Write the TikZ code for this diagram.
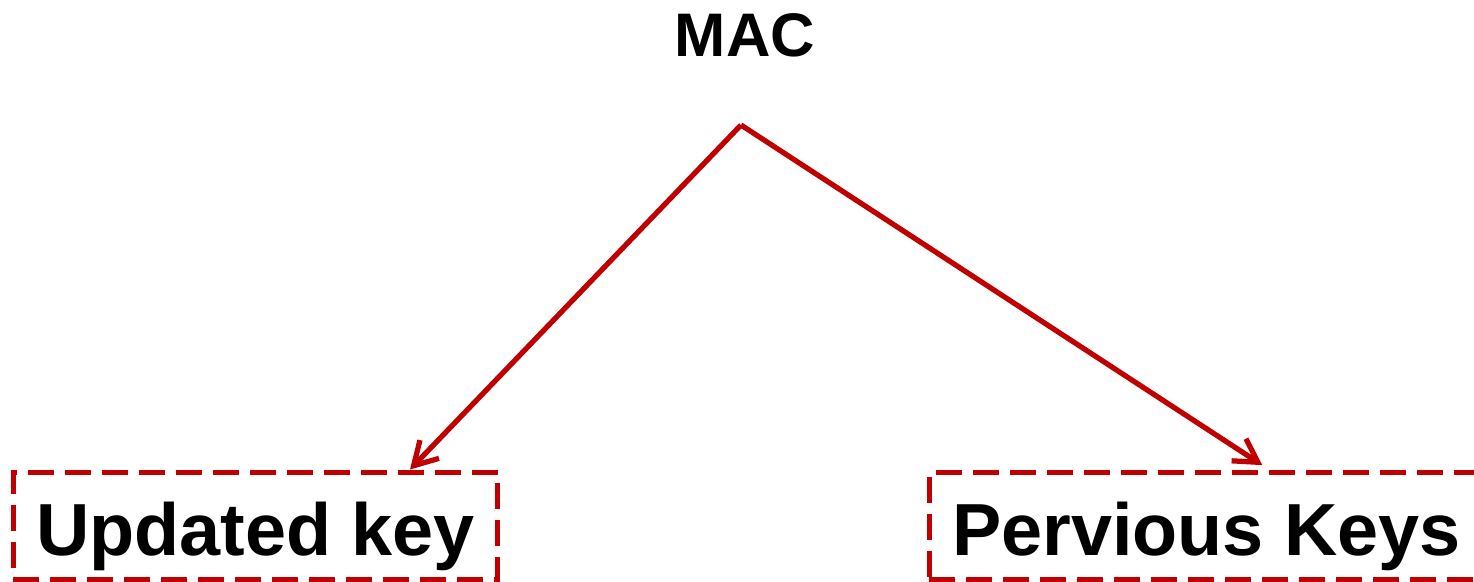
\documentclass[tikz,border=0pt]{standalone}
\usepackage{fontspec}
\setmainfont{Liberation Sans}
\usetikzlibrary{positioning, arrows.meta, calc}
\definecolor{keyred}{RGB}{192,0,0}

\begin{document}
\begin{tikzpicture}[
  box/.style={draw=keyred, line width=0.1cm, dash pattern=on 0.52cm off 0.22cm,
              minimum height=2.14cm, inner xsep=0.46cm, inner ysep=0pt,
              text height=1.4cm, text depth=0.22cm,
              font=\fontsize{42}{50}\selectfont\bfseries},
  ar/.style={-{Straight Barb[length=13pt, width=15pt]}, draw=keyred, line width=0.105cm},
]
\useasboundingbox (0,0) rectangle (29.48,11.62);
\begin{scope}
\clip (0,0) rectangle (29.48,11.62);
\node[font=\fontsize{35}{42}\selectfont\bfseries, anchor=base] (mac) at (14.9,10.5) {MAC};
\coordinate (split) at (14.82,9.12);

\node[box, minimum width=9.66cm] (upd) at (5.11,1.11)  {Updated key};
\node[box, minimum width=11.06cm] (prev) at (24.13,1.11) {Pervious Keys};

\draw[ar] (split) -- ([xshift=3.09cm]upd.north);
\draw[ar, shorten >=0.16cm] (split) -- ([xshift=1.25cm]prev.north);
\end{scope}
\end{tikzpicture}
\end{document}
